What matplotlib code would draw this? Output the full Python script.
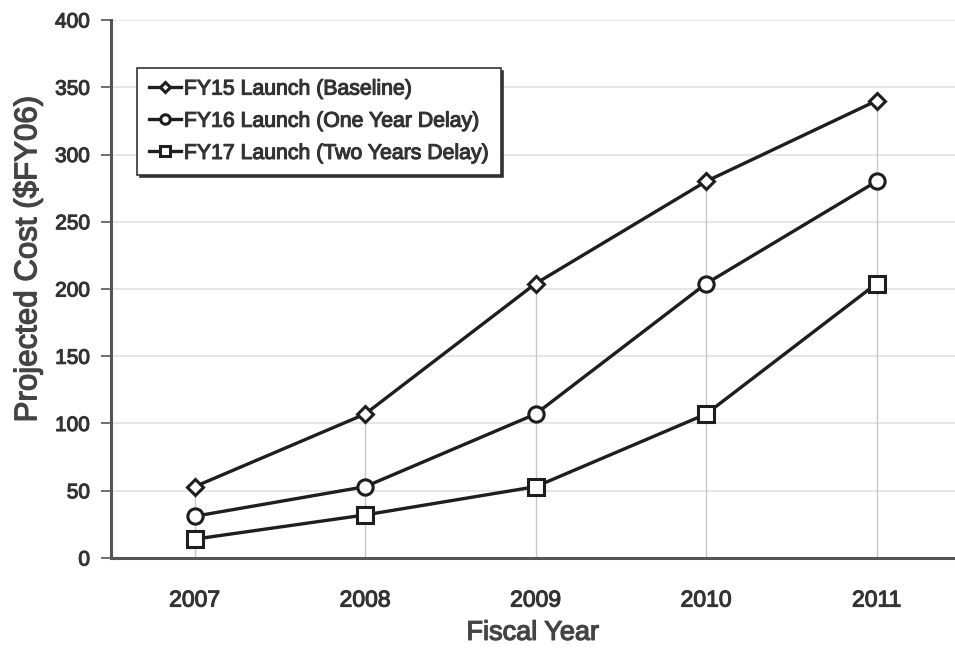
import matplotlib.pyplot as plt
import matplotlib.patheffects as pe

plt.rcParams['font.family'] = ['Liberation Sans', 'DejaVu Sans']

years = [2007, 2008, 2009, 2010, 2011]
baseline = [53, 107, 204, 280, 340]
one_year_delay = [31, 53, 107, 204, 280]
two_year_delay = [14, 32, 53, 107, 204]
labels = ["FY15 Launch (Baseline)",
          "FY16 Launch (One Year Delay)",
          "FY17 Launch (Two Years Delay)"]

txt_col = '#333333'
# thicken the strokes a little, the scanned original looks semi-bold
thick = [pe.withStroke(linewidth=0.8, foreground=txt_col)]

fig = plt.figure(figsize=(9.55, 6.52), dpi=100)
ax = fig.add_axes([0.1162, 0.1442, 0.8838, 0.8251])

# drop lines from the top series down to zero
ax.vlines(years, 0, baseline, color='#c8c8c8', lw=1.0, zorder=1)
for yv in range(50, 401, 50):
    ax.axhline(yv, color='#e2e2e2', lw=1.2, zorder=0)

line_kw = dict(color='#1e1e1e', lw=2.4, markerfacecolor='white',
               markeredgecolor='#1e1e1e', markeredgewidth=2.2, zorder=3)
ax.plot(years, baseline, marker='D', markersize=8, label=labels[0], **line_kw)
ax.plot(years, one_year_delay, marker='o', markersize=11, label=labels[1], **line_kw)
ax.plot(years, two_year_delay, marker='s', markersize=11, label=labels[2], **line_kw)

ax.set_xlim(2006.51, 2011.46)
ax.set_ylim(0, 400)
ax.set_xticks(years)
ax.set_yticks(range(0, 401, 50))
ax.tick_params(axis='x', length=0, pad=22, labelsize=16.5, labelcolor=txt_col)
ax.tick_params(axis='y', length=7, width=1.2, color='#555555', pad=8,
               labelsize=15, labelcolor=txt_col)
for t in ax.get_xticklabels() + ax.get_yticklabels():
    t.set_path_effects(thick)

for s in ['top', 'right']:
    ax.spines[s].set_visible(False)
for s in ['left', 'bottom']:
    ax.spines[s].set_color('#555555')
    ax.spines[s].set_linewidth(2.2)

ax.set_xlabel("Fiscal Year", fontsize=19.5, color='#444444',
              path_effects=[pe.withStroke(linewidth=0.9, foreground='#444444')])
ax.set_ylabel("Projected Cost ($FY06)", fontsize=22.5, color='#444444',
              path_effects=[pe.withStroke(linewidth=0.9, foreground='#444444')])
ax.xaxis.set_label_coords(0.5, -0.115)
ax.yaxis.set_label_coords(-0.098, 0.556)
ax.yaxis.label.set_va('center')

leg = ax.legend(loc='upper left', bbox_to_anchor=(0.031, 0.911),
                prop={'size': 15.3},
                frameon=True, fancybox=False, shadow={'color': '#333333', 'alpha': 1},
                handlelength=1.5, handletextpad=0.15, borderpad=0.55, labelspacing=0.62,
                borderaxespad=0, markerscale=0.62)
leg.get_frame().set_edgecolor('#333333')
leg.get_frame().set_linewidth(1.2)
for t in leg.get_texts():
    t.set_color(txt_col)
    t.set_path_effects(thick)

fig.savefig("out.png", dpi=100, facecolor='white')
